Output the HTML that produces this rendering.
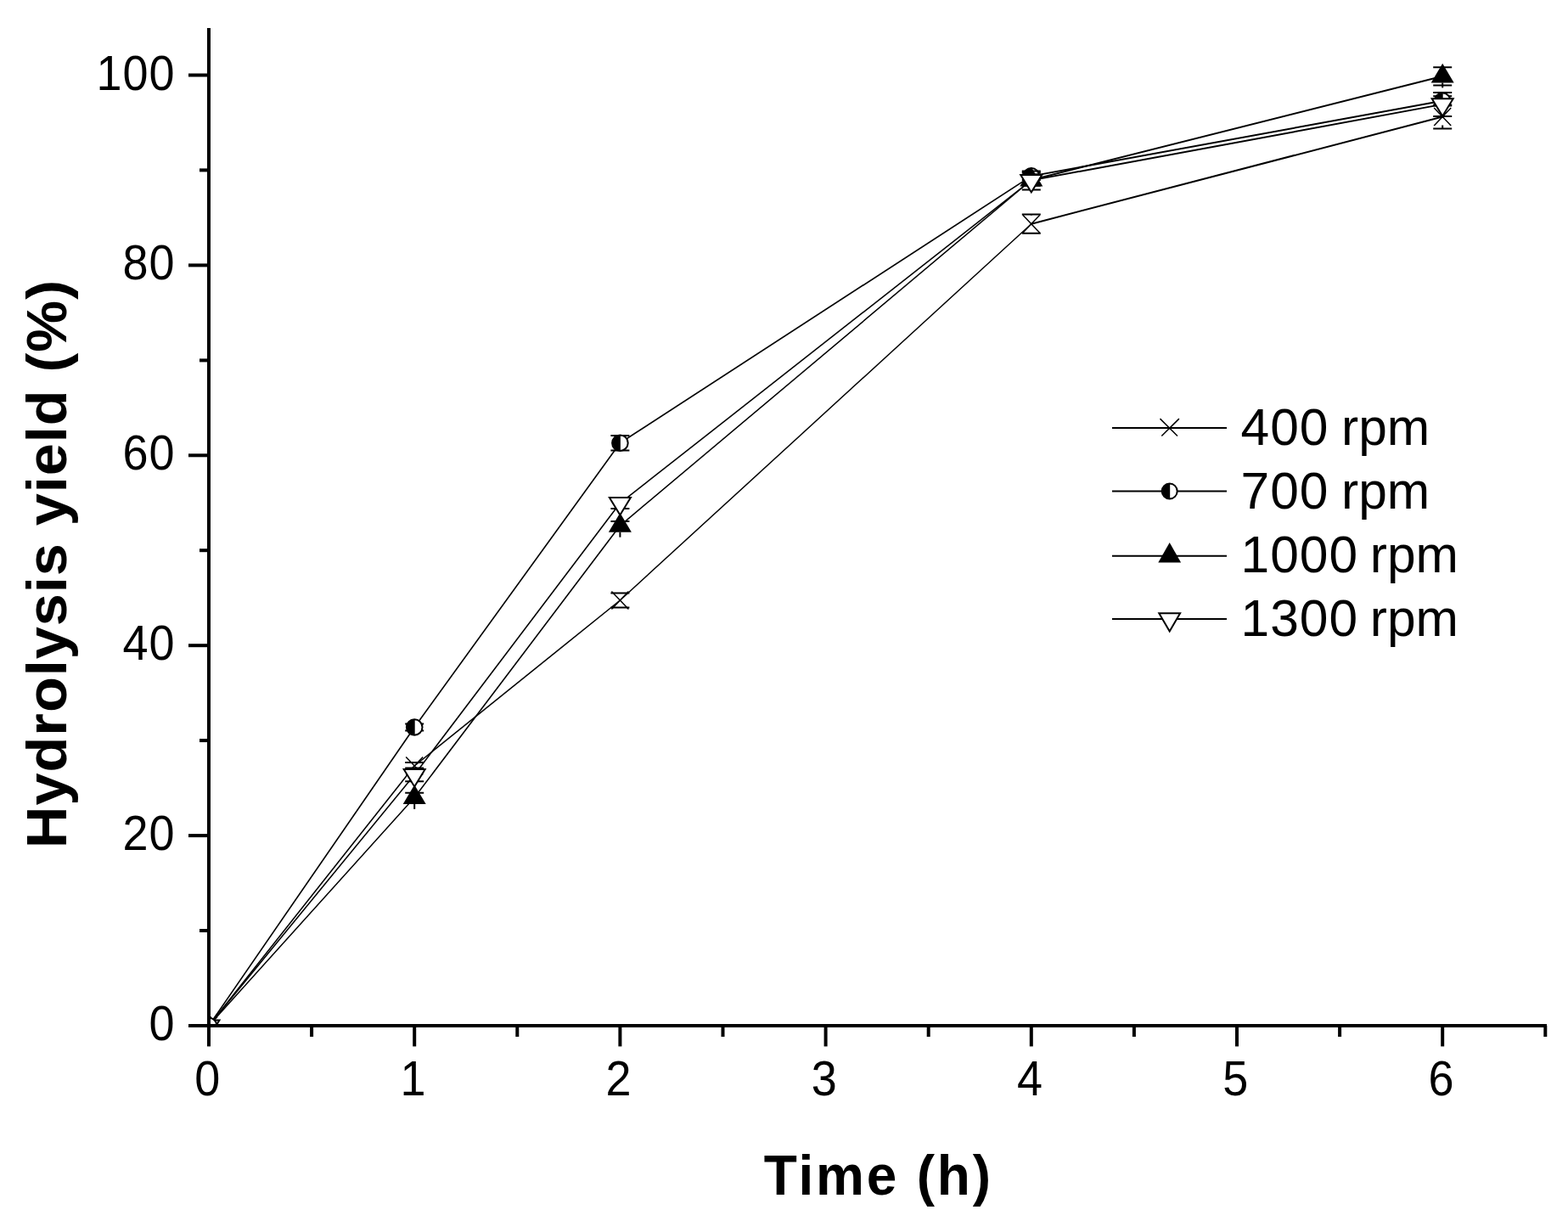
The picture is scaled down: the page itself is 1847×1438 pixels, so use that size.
<!DOCTYPE html>
<html><head><meta charset="utf-8"><style>
html,body{margin:0;padding:0;background:#fff;}
svg{display:block;}
.tl{font-family:"Liberation Sans",Arial,sans-serif;font-size:54px;fill:#000;}
.tt{font-family:"Liberation Sans",Arial,sans-serif;font-size:64px;font-weight:bold;fill:#000;}
.lg{font-family:"Liberation Sans",Arial,sans-serif;font-size:60.5px;fill:#000;}
</style></head><body>
<svg width="1847" height="1438" viewBox="0 0 1847 1438">
<rect width="1847" height="1438" fill="#fff"/>
<defs><clipPath id="pc"><rect x="248" y="0" width="1600" height="1206"/></clipPath></defs>
<text transform="translate(206.6,1225.0) scale(1,1.055)" text-anchor="end" class="tl" letter-spacing="1">0</text>
<text transform="translate(206.6,1001.1) scale(1,1.055)" text-anchor="end" class="tl" letter-spacing="1">20</text>
<text transform="translate(206.6,777.2) scale(1,1.055)" text-anchor="end" class="tl" letter-spacing="1">40</text>
<text transform="translate(206.6,553.3) scale(1,1.055)" text-anchor="end" class="tl" letter-spacing="1">60</text>
<text transform="translate(206.6,329.4) scale(1,1.055)" text-anchor="end" class="tl" letter-spacing="1">80</text>
<text transform="translate(206.6,105.5) scale(1,1.055)" text-anchor="end" class="tl" letter-spacing="1">100</text>
<text transform="translate(244.2,1290) scale(1,1.055)" text-anchor="middle" class="tl">0</text>
<text transform="translate(486.4,1290) scale(1,1.055)" text-anchor="middle" class="tl">1</text>
<text transform="translate(728.6,1290) scale(1,1.055)" text-anchor="middle" class="tl">2</text>
<text transform="translate(970.8,1290) scale(1,1.055)" text-anchor="middle" class="tl">3</text>
<text transform="translate(1213.0,1290) scale(1,1.055)" text-anchor="middle" class="tl">4</text>
<text transform="translate(1455.2,1290) scale(1,1.055)" text-anchor="middle" class="tl">5</text>
<text transform="translate(1697.4,1290) scale(1,1.055)" text-anchor="middle" class="tl">6</text>
<text transform="translate(1034.8,1406.6) scale(1,1.052)" text-anchor="middle" class="tt" letter-spacing="2.8">Time (h)</text>
<text transform="translate(78,664.0) rotate(-90) scale(1.07,1.052)" text-anchor="middle" class="tt" letter-spacing="0.9">Hydrolysis yield (%)</text>
<line x1="246.0" y1="1208.0" x2="488.2" y2="902.0" stroke="#000" stroke-width="1.57" stroke-linecap="round"/>
<line x1="488.2" y1="902.0" x2="730.4" y2="707.0" stroke="#000" stroke-width="1.56" stroke-linecap="round"/>
<line x1="730.4" y1="707.0" x2="1214.8" y2="263.7" stroke="#000" stroke-width="1.48" stroke-linecap="round"/>
<line x1="1214.8" y1="263.7" x2="1699.2" y2="137.5" stroke="#000" stroke-width="1.94" stroke-linecap="round"/>
<line x1="246.0" y1="1208.0" x2="488.2" y2="856.5" stroke="#000" stroke-width="1.65" stroke-linecap="round"/>
<line x1="488.2" y1="856.5" x2="730.4" y2="521.7" stroke="#000" stroke-width="1.62" stroke-linecap="round"/>
<line x1="730.4" y1="521.7" x2="1214.8" y2="207.4" stroke="#000" stroke-width="1.68" stroke-linecap="round"/>
<line x1="1214.8" y1="207.4" x2="1699.2" y2="118.8" stroke="#000" stroke-width="1.97" stroke-linecap="round"/>
<line x1="246.0" y1="1208.0" x2="488.2" y2="939.3" stroke="#000" stroke-width="1.49" stroke-linecap="round"/>
<line x1="488.2" y1="939.3" x2="730.4" y2="619.1" stroke="#000" stroke-width="1.60" stroke-linecap="round"/>
<line x1="730.4" y1="619.1" x2="1214.8" y2="212.0" stroke="#000" stroke-width="1.53" stroke-linecap="round"/>
<line x1="1214.8" y1="212.0" x2="1699.2" y2="89.8" stroke="#000" stroke-width="1.94" stroke-linecap="round"/>
<line x1="246.0" y1="1208.0" x2="488.2" y2="912.5" stroke="#000" stroke-width="1.55" stroke-linecap="round"/>
<line x1="488.2" y1="912.5" x2="730.4" y2="592.6" stroke="#000" stroke-width="1.59" stroke-linecap="round"/>
<line x1="730.4" y1="592.6" x2="1214.8" y2="212.4" stroke="#000" stroke-width="1.57" stroke-linecap="round"/>
<line x1="1214.8" y1="212.4" x2="1699.2" y2="122.9" stroke="#000" stroke-width="1.97" stroke-linecap="round"/>
<path d="M477.2 898.1H499.2M477.2 906.0H499.2" stroke="#000" stroke-width="2" fill="none"/>
<path d="M478.2 891.5L498.2 912.5M478.2 912.5L498.2 891.5" stroke="#000" stroke-width="1.5" fill="none"/>
<path d="M719.4 698.6H741.4M719.4 715.4H741.4" stroke="#000" stroke-width="2" fill="none"/>
<path d="M720.4 696.5L740.4 717.5M720.4 717.5L740.4 696.5" stroke="#000" stroke-width="1.5" fill="none"/>
<path d="M1203.8 252.6H1225.8M1203.8 274.8H1225.8M1214.8 252.6V253.7M1214.8 273.7V274.8" stroke="#000" stroke-width="2" fill="none"/>
<path d="M1204.8 253.2L1224.8 274.2M1204.8 274.2L1224.8 253.2" stroke="#000" stroke-width="1.5" fill="none"/>
<path d="M1688.2 123.5H1710.2M1688.2 151.5H1710.2M1699.2 123.5V127.5M1699.2 147.5V151.5" stroke="#000" stroke-width="2" fill="none"/>
<path d="M1689.2 127.0L1709.2 148.0M1689.2 148.0L1709.2 127.0" stroke="#000" stroke-width="1.5" fill="none"/>
<path d="M477.2 852.4H499.2M477.2 860.5H499.2" stroke="#000" stroke-width="2" fill="none"/>
<circle cx="488.2" cy="856.5" r="9.3" fill="#fff" stroke="#000" stroke-width="2"/><path d="M488.7 847.2A9.3 9.3 0 0 0 488.7 865.8Z" fill="#000"/>
<path d="M719.4 512.9H741.4M719.4 530.6H741.4" stroke="#000" stroke-width="2" fill="none"/>
<circle cx="730.4" cy="521.7" r="9.3" fill="#fff" stroke="#000" stroke-width="2"/><path d="M730.9 512.4A9.3 9.3 0 0 0 730.9 531.0Z" fill="#000"/>
<path d="M1203.8 202.9H1225.8M1203.8 211.9H1225.8" stroke="#000" stroke-width="2" fill="none"/>
<circle cx="1214.8" cy="207.4" r="9.3" fill="#fff" stroke="#000" stroke-width="2"/><path d="M1215.3 198.1A9.3 9.3 0 0 0 1215.3 216.7Z" fill="#000"/>
<path d="M1688.2 113.2H1710.2M1688.2 124.4H1710.2" stroke="#000" stroke-width="2" fill="none"/>
<circle cx="1699.2" cy="118.8" r="9.3" fill="#fff" stroke="#000" stroke-width="2"/><path d="M1699.7 109.5A9.3 9.3 0 0 0 1699.7 128.1Z" fill="#000"/>
<path d="M477.2 933.7H499.2M477.2 944.9H499.2" stroke="#000" stroke-width="2" fill="none"/>
<polygon points="488.2,924.2 501.7,946.9 474.7,946.9" fill="#000"/>
<path d="M488.2 946.9V952.9" stroke="#000" stroke-width="2" fill="none"/>
<path d="M719.4 614.1H741.4M719.4 624.2H741.4" stroke="#000" stroke-width="2" fill="none"/>
<polygon points="730.4,604.0 743.9,626.7 716.9,626.7" fill="#000"/>
<path d="M730.4 626.7V632.7" stroke="#000" stroke-width="2" fill="none"/>
<path d="M1203.8 205.3H1225.8M1203.8 218.7H1225.8" stroke="#000" stroke-width="2" fill="none"/>
<polygon points="1214.8,196.8 1228.3,219.5 1201.3,219.5" fill="#000"/>
<path d="M1214.8 219.5V225.5" stroke="#000" stroke-width="2" fill="none"/>
<path d="M1688.2 79.3H1710.2M1688.2 100.4H1710.2" stroke="#000" stroke-width="2" fill="none"/>
<polygon points="1699.2,74.7 1712.7,97.4 1685.7,97.4" fill="#000"/>
<path d="M1699.2 97.4V103.4" stroke="#000" stroke-width="2" fill="none"/>
<path d="M477.2 904.6H499.2M477.2 920.3H499.2" stroke="#000" stroke-width="2" fill="none"/>
<polygon points="488.2,926.4 500.7,905.9 475.7,905.9" fill="#fff" stroke="#000" stroke-width="2" stroke-linejoin="miter"/>
<path d="M719.4 586.1H741.4M719.4 599.1H741.4" stroke="#000" stroke-width="2" fill="none"/>
<polygon points="730.4,606.5 742.9,586.0 717.9,586.0" fill="#fff" stroke="#000" stroke-width="2" stroke-linejoin="miter"/>
<path d="M1203.8 201.5H1225.8M1203.8 223.4H1225.8" stroke="#000" stroke-width="2" fill="none"/>
<polygon points="1214.8,226.4 1227.3,205.9 1202.3,205.9" fill="#fff" stroke="#000" stroke-width="2" stroke-linejoin="miter"/>
<path d="M1688.2 108.9H1710.2M1688.2 136.9H1710.2" stroke="#000" stroke-width="2" fill="none"/>
<polygon points="1699.2,136.8 1711.7,116.3 1686.7,116.3" fill="#fff" stroke="#000" stroke-width="2" stroke-linejoin="miter"/>
<g clip-path="url(#pc)"><path d="M236.0 1197.5L256.0 1218.5M236.0 1218.5L256.0 1197.5" stroke="#000" stroke-width="1.5" fill="none"/></g>
<g clip-path="url(#pc)"><polygon points="246.0,1192.9 259.5,1215.6 232.5,1215.6" fill="#000"/></g>
<g clip-path="url(#pc)"><polygon points="246.0,1221.9 258.5,1201.4 233.5,1201.4" fill="#fff" stroke="#000" stroke-width="2" stroke-linejoin="miter"/></g>
<g clip-path="url(#pc)"><circle cx="246.0" cy="1208.0" r="9.3" fill="#fff" stroke="#000" stroke-width="2"/><path d="M246.5 1198.7A9.3 9.3 0 0 0 246.5 1217.3Z" fill="#000"/></g>
<line x1="246" y1="33" x2="246" y2="1210" stroke="#000" stroke-width="4"/>
<line x1="244" y1="1208" x2="1822" y2="1208" stroke="#000" stroke-width="4"/>
<line x1="222" y1="1208.0" x2="246" y2="1208.0" stroke="#000" stroke-width="4"/>
<line x1="235" y1="1096.0" x2="246" y2="1096.0" stroke="#000" stroke-width="4"/>
<line x1="222" y1="984.1" x2="246" y2="984.1" stroke="#000" stroke-width="4"/>
<line x1="235" y1="872.1" x2="246" y2="872.1" stroke="#000" stroke-width="4"/>
<line x1="222" y1="760.2" x2="246" y2="760.2" stroke="#000" stroke-width="4"/>
<line x1="235" y1="648.2" x2="246" y2="648.2" stroke="#000" stroke-width="4"/>
<line x1="222" y1="536.3" x2="246" y2="536.3" stroke="#000" stroke-width="4"/>
<line x1="235" y1="424.4" x2="246" y2="424.4" stroke="#000" stroke-width="4"/>
<line x1="222" y1="312.4" x2="246" y2="312.4" stroke="#000" stroke-width="4"/>
<line x1="235" y1="200.4" x2="246" y2="200.4" stroke="#000" stroke-width="4"/>
<line x1="222" y1="88.5" x2="246" y2="88.5" stroke="#000" stroke-width="4"/>
<line x1="246.0" y1="1208" x2="246.0" y2="1232.4" stroke="#000" stroke-width="4"/>
<line x1="367.1" y1="1208" x2="367.1" y2="1221" stroke="#000" stroke-width="4"/>
<line x1="488.2" y1="1208" x2="488.2" y2="1232.4" stroke="#000" stroke-width="4"/>
<line x1="609.3" y1="1208" x2="609.3" y2="1221" stroke="#000" stroke-width="4"/>
<line x1="730.4" y1="1208" x2="730.4" y2="1232.4" stroke="#000" stroke-width="4"/>
<line x1="851.5" y1="1208" x2="851.5" y2="1221" stroke="#000" stroke-width="4"/>
<line x1="972.6" y1="1208" x2="972.6" y2="1232.4" stroke="#000" stroke-width="4"/>
<line x1="1093.7" y1="1208" x2="1093.7" y2="1221" stroke="#000" stroke-width="4"/>
<line x1="1214.8" y1="1208" x2="1214.8" y2="1232.4" stroke="#000" stroke-width="4"/>
<line x1="1335.9" y1="1208" x2="1335.9" y2="1221" stroke="#000" stroke-width="4"/>
<line x1="1457.0" y1="1208" x2="1457.0" y2="1232.4" stroke="#000" stroke-width="4"/>
<line x1="1578.1" y1="1208" x2="1578.1" y2="1221" stroke="#000" stroke-width="4"/>
<line x1="1699.2" y1="1208" x2="1699.2" y2="1232.4" stroke="#000" stroke-width="4"/>
<line x1="1820.3" y1="1208" x2="1820.3" y2="1221" stroke="#000" stroke-width="4"/>
<line x1="1310" y1="504" x2="1445" y2="504" stroke="#000" stroke-width="2"/>
<path d="M1366.5 493.1L1387.0 513.5M1388.9 493.1L1368.3 513.5" stroke="#000" stroke-width="1.5" fill="none"/>
<text x="1461.5" y="523.5" class="lg"><tspan letter-spacing="1.0">400 </tspan><tspan x="1580" letter-spacing="0">rpm</tspan></text>
<line x1="1310" y1="578.5" x2="1445" y2="578.5" stroke="#000" stroke-width="2"/>
<circle cx="1377.7" cy="578.5" r="9.0" fill="#fff" stroke="#000" stroke-width="2"/><path d="M1378.2 569.5A9.0 9.0 0 0 0 1378.2 587.5Z" fill="#000"/>
<text x="1461.5" y="599.3" class="lg"><tspan letter-spacing="1.0">700 </tspan><tspan x="1580" letter-spacing="0">rpm</tspan></text>
<line x1="1310" y1="654.7" x2="1445" y2="654.7" stroke="#000" stroke-width="2"/>
<polygon points="1377.7,639.0 1391.1,662.5 1364.3,662.5" fill="#000"/>
<text x="1461.5" y="674.3" class="lg"><tspan letter-spacing="1.0">1000 </tspan><tspan x="1613.8" letter-spacing="0">rpm</tspan></text>
<line x1="1310" y1="729" x2="1445" y2="729" stroke="#000" stroke-width="2"/>
<polygon points="1377.7,743.5 1390.1,722.2 1365.3,722.2" fill="#fff" stroke="#000" stroke-width="2" stroke-linejoin="miter"/>
<text x="1461.5" y="748.5" class="lg"><tspan letter-spacing="1.0">1300 </tspan><tspan x="1613.8" letter-spacing="0">rpm</tspan></text>
</svg>
</body></html>
